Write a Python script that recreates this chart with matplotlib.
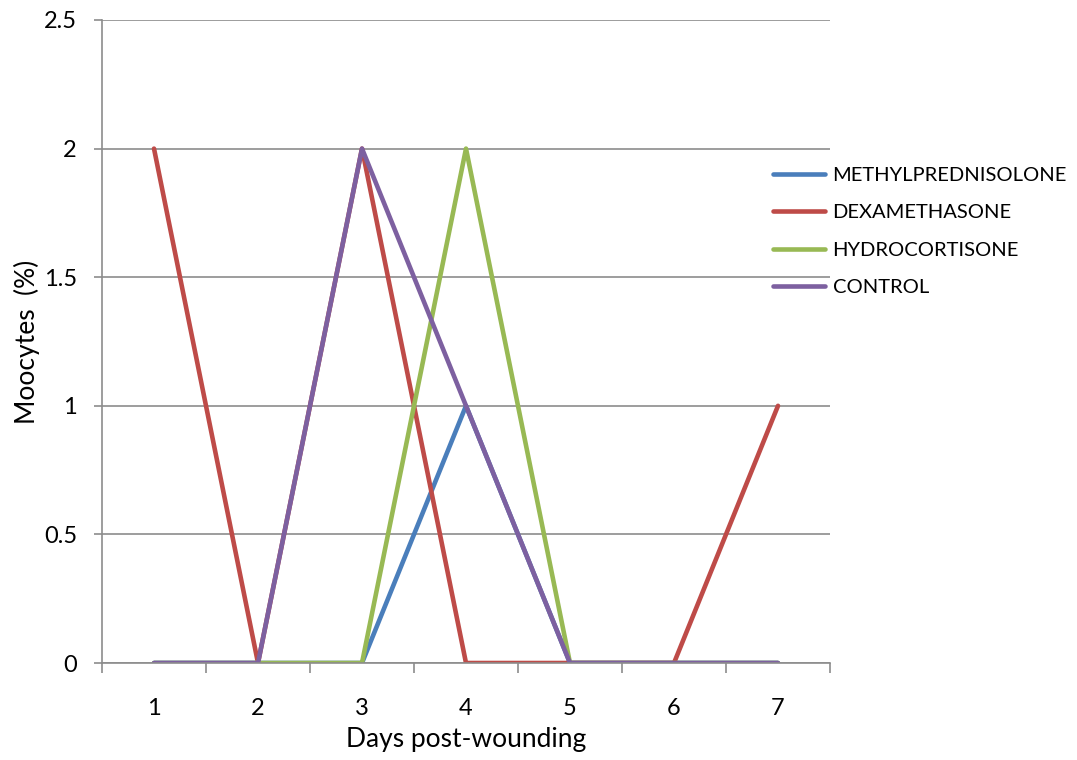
import matplotlib.pyplot as plt

days = [1, 2, 3, 4, 5, 6, 7]
methyl = [0, 0, 0, 1, 0, 0, 0]
dexa = [2, 0, 2, 0, 0, 0, 1]
hydro = [0, 0, 0, 2, 0, 0, 0]
control = [0, 0, 2, 1, 0, 0, 0]
y_ticks = [0, 0.5, 1, 1.5, 2, 2.5]
y_labels = ['0', '0.5', '1', '1.5', '2', '2.5']

plt.rcParams['font.family'] = ['Lato', 'DejaVu Sans']

fig = plt.figure(figsize=(10.77, 7.6), dpi=100)
ax = fig.add_axes([102/1077, 1 - 663/760, (830-102)/1077, (663-20)/760])

grid_c = '#8c8c8c'
style = dict(lw=3.3, solid_capstyle='round', solid_joinstyle='round')
ax.plot(days, methyl, color='#4a7ebb', label='METHYLPREDNISOLONE', **style)
ax.plot(days, dexa, color='#be4b48', label='DEXAMETHASONE', **style)
ax.plot(days, hydro, color='#98b954', label='HYDROCORTISONE', **style)
ax.plot(days, control, color='#7d60a0', label='CONTROL', **style)

ax.set_xlim(0.5, 7.5)
ax.set_ylim(0, 2.5)
ax.set_yticks(y_ticks)
ax.set_yticklabels(y_labels)
ax.set_xticks(days)
ax.set_xticks([d + 0.5 for d in [0] + days], minor=True)
ax.tick_params(axis='x', which='major', length=0, pad=25, labelsize=17)
ax.tick_params(axis='x', which='minor', length=7, color=grid_c, width=1.2)
ax.tick_params(axis='y', length=6, color=grid_c, width=1.2, labelsize=17, pad=12)
ax.yaxis.grid(True, color=grid_c, lw=1.2)
ax.set_axisbelow(True)
for s in ['top', 'right']:
    ax.spines[s].set_visible(False)
for s in ['left', 'bottom']:
    ax.spines[s].set_color(grid_c)
    ax.spines[s].set_linewidth(1.2)

ax.set_xlabel('Days post-wounding', fontsize=19, labelpad=6)
ax.set_ylabel('Moocytes  (%)', fontsize=19, labelpad=3)

fig.legend(loc='upper left', bbox_to_anchor=(755/1077, 1 - 149/760), frameon=False,
           fontsize=14.5, handlelength=2.6, labelspacing=1.0, handletextpad=0.35)

plt.savefig('out.png', dpi=100)
